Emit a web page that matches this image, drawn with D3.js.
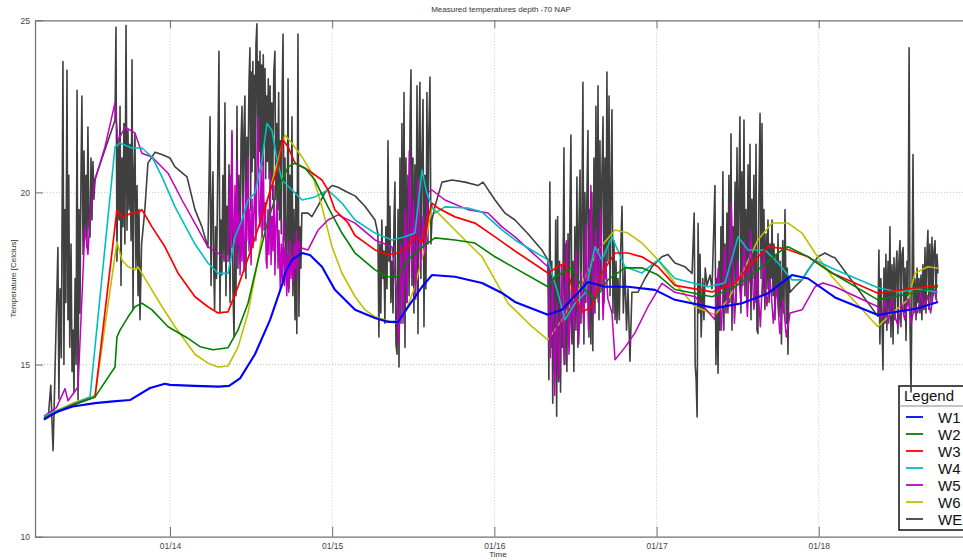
<!DOCTYPE html>
<html>
<head>
<meta charset="utf-8">
<script src="https://cdn.jsdelivr.net/npm/d3@7"></script>
<style>
  body { margin: 0; background: #fff; }
  svg { display: block; font-family: "Liberation Sans", Arial, sans-serif; }
</style>
</head>
<body>
<div id="chart"></div>
<script>
// Measured temperatures at depth -70 NAP, 7 sensors.
// Time is stored as fractional day of January, temperatures in degrees C.

const seriesNames = ["W1", "W2", "W3", "W4", "W5", "W6", "WE"];
const seriesColors = ["#0000ff", "#008000", "#ff0000", "#00bfbf", "#bf00bf", "#bfbf00", "#404040"];

const dayTicks = [14, 15, 16, 17, 18];
const tempTicks = [10, 15, 20, 25];
const timeDomain = [13.1677, 18.914];

const w1 = [[13.223,13.40],[13.30,13.62],[13.40,13.78],[13.538,13.88],[13.65,13.93],[13.753,13.97],[13.877,14.32],
  [13.969,14.44],[14.0,14.41],[14.15,14.38],[14.30,14.36],[14.364,14.38],[14.432,14.6],[14.524,15.3],[14.617,16.3],
  [14.697,17.4],[14.709,17.66],[14.752,18.04],[14.814,18.24],[14.863,18.18],[14.937,17.84],[15.017,17.17],[15.141,16.59],
  [15.264,16.35],[15.344,16.24],[15.406,16.24],[15.467,16.67],[15.554,17.26],[15.615,17.6],[15.757,17.55],[15.924,17.37],
  [16.047,17.08],[16.127,16.82],[16.330,16.45],[16.417,16.59],[16.577,17.4],[16.682,17.26],[16.824,17.26],[16.990,17.17],
  [17.113,16.88],[17.360,16.64],[17.527,16.78],[17.687,17.07],[17.835,17.6],[17.934,17.5],[18.100,16.95],
  [18.365,16.44],[18.50,16.55],[18.60,16.62],[18.735,16.82]];

const w2 = [[13.223,13.45],[13.40,13.82],[13.538,14.06],[13.661,14.93],[13.673,15.8],[13.692,16.0],[13.741,16.38],
  [13.784,16.68],[13.827,16.78],[13.889,16.59],[13.988,16.1],[14.105,15.78],[14.185,15.52],[14.265,15.43],[14.358,15.49],
  [14.419,16.0],[14.481,16.78],[14.543,18.03],[14.604,19.19],[14.666,20.07],[14.728,20.74],[14.771,20.85],[14.832,20.71],
  [14.894,20.36],[14.974,19.58],[15.060,18.82],[15.141,18.24],[15.264,17.75],[15.344,17.55],[15.406,17.55],[15.467,18.04],
  [15.554,18.41],[15.634,18.68],[15.757,18.62],[15.880,18.53],[16.004,18.13],[16.127,17.8],[16.330,17.26],[16.374,17.55],
  [16.478,17.81],[16.540,17.26],[16.620,16.88],[16.700,17.46],[16.805,17.81],[16.910,17.81],[17.009,17.6],[17.113,17.18],
  [17.342,16.97],[17.483,17.26],[17.625,17.75],[17.773,18.33],[17.810,18.42],[17.934,18.13],[18.082,17.66],
  [18.365,16.88],[18.55,17.05],[18.735,17.26]];

const w3 = [[13.223,13.45],[13.40,13.83],[13.538,14.06],[13.673,19.5],[13.704,19.29],[13.766,19.4],[13.803,19.4],
  [13.827,19.5],[13.889,19.0],[13.969,18.42],[14.049,17.66],[14.154,16.97],[14.234,16.68],[14.296,16.5],[14.358,16.53],
  [14.419,17.26],[14.506,18.42],[14.586,19.58],[14.666,20.74],[14.697,21.52],[14.728,21.32],[14.771,20.85],[14.851,20.65],
  [14.937,20.36],[14.974,20.07],[15.017,19.49],[15.097,19.12],[15.141,18.75],[15.264,18.33],[15.344,18.19],[15.406,18.24],
  [15.467,18.42],[15.510,18.71],[15.554,18.56],[15.615,19.69],[15.652,19.55],[15.757,19.29],[15.880,19.11],[16.004,18.71],
  [16.127,18.3],[16.330,17.66],[16.392,17.84],[16.435,17.95],[16.497,16.97],[16.540,16.53],[16.602,16.68],[16.663,17.66],
  [16.744,18.24],[16.824,18.24],[16.910,18.13],[17.009,17.84],[17.113,17.3],[17.342,17.11],[17.483,17.37],[17.607,18.04],
  [17.687,18.42],[17.792,18.37],[17.934,18.13],[18.082,17.66],[18.365,17.07],[18.55,17.2],[18.735,17.3]];

const w4 = [[13.223,13.5],[13.40,13.85],[13.507,14.06],[13.661,21.32],[13.692,21.43],[13.766,21.29],[13.827,21.29],
  [13.889,21.03],[13.951,20.45],[14.031,19.58],[14.154,18.5],[14.234,17.95],[14.296,17.65],[14.358,17.65],[14.401,18.71],
  [14.444,19.2],[14.481,19.78],[14.524,19.98],[14.567,20.94],[14.598,22.0],[14.629,21.8],[14.660,20.94],[14.691,20.36],
  [14.752,20.07],[14.814,19.78],[14.894,19.87],[14.974,20.07],[15.060,19.69],[15.141,19.2],[15.264,18.82],[15.369,18.62],
  [15.449,18.71],[15.510,18.82],[15.554,20.65],[15.584,19.97],[15.634,19.4],[15.695,19.58],[15.837,19.55],[15.924,19.43],
  [16.047,18.91],[16.127,18.62],[16.330,18.04],[16.392,17.07],[16.435,16.3],[16.497,16.78],[16.559,17.07],[16.620,18.42],
  [16.663,18.04],[16.725,18.71],[16.805,17.84],[16.910,17.66],[17.009,18.04],[17.113,17.5],[17.317,17.26],[17.422,17.37],
  [17.502,18.71],[17.564,18.33],[17.668,18.33],[17.749,17.95],[17.835,17.46],[17.897,17.46],[17.977,18.04],[18.082,17.8],
  [18.365,17.23],[18.50,17.1],[18.60,17.2],[18.735,17.1]];

const w5 = [[13.223,13.5],[13.30,13.75],[13.353,14.3],[13.371,13.95],[13.433,14.35],[13.476,19.0],[13.494,18.2],
  [13.507,19.3],[13.538,20.36],[13.599,21.32],[13.661,22.6],[13.679,21.5],[13.723,21.9],[13.784,21.73],[13.827,21.14],
  [13.889,21.03],[13.988,20.56],[14.074,19.78],[14.154,19.1],[14.234,18.42],[14.296,18.24],
  [14.358,18.0],[14.364,19.6],[14.37,20.5],[14.376,18.4],[14.382,21.8],[14.388,18.9],[14.395,18.6],[14.401,20.2],
  [14.407,17.9],[14.413,20.9],[14.42,18.5],[14.426,19.4],[14.432,17.6],[14.438,19.2],[14.444,18.0],[14.45,19.9],
  [14.456,17.7],[14.462,18.2],[14.468,20.3],[14.474,18.6],[14.481,21.0],[14.487,18.3],[14.493,19.5],[14.50,17.9],
  [14.506,19.8],[14.512,18.4],[14.518,19.5],[14.524,20.3],[14.530,18.6],[14.536,20.8],[14.543,22.2],[14.549,19.4],
  [14.555,19.0],[14.562,20.6],[14.568,18.7],[14.575,21.2],[14.581,18.9],[14.587,19.7],[14.593,18.0],[14.598,17.8],
  [14.604,19.5],[14.610,18.2],[14.617,20.6],[14.623,17.9],[14.629,19.3],[14.635,18.3],[14.641,20.2],[14.647,17.6],
  [14.653,19.0],[14.66,19.8],[14.666,17.8],[14.672,18.9],[14.68,17.2],[14.686,18.5],[14.692,17.4],[14.70,19.2],
  [14.706,17.3],[14.712,18.4],[14.72,17.0],[14.726,18.2],[14.732,17.1],[14.74,18.6],[14.746,17.5],[14.752,18.0],
  [14.76,17.4],[14.766,18.5],[14.772,17.8],[14.78,18.9],[14.786,17.6],[14.792,18.6],[14.801,18.4],
  [14.851,18.33],[14.912,18.9],[14.974,19.2],[15.036,19.35],[15.141,19.11],[15.264,18.62],[15.369,18.42],
  [15.40,17.0],[15.412,15.6],[15.425,18.5],[15.437,16.2],[15.45,19.5],[15.462,16.8],[15.475,21.2],[15.49,17.5],
  [15.50,19.8],[15.515,16.9],[15.53,20.4],[15.545,17.8],[15.56,19.3],[15.575,18.2],[15.59,20.0],[15.615,20.07],
  [15.695,19.78],[15.837,19.5],[15.961,19.4],[16.047,19.0],[16.127,18.71],[16.330,17.84],
  [16.345,15.2],[16.36,17.5],[16.372,14.1],[16.385,16.8],[16.40,14.6],[16.415,17.9],[16.43,15.0],[16.445,18.6],
  [16.46,15.3],[16.475,17.2],[16.49,16.0],[16.505,18.3],[16.52,15.6],[16.535,17.7],[16.55,16.2],[16.565,19.1],
  [16.58,16.0],[16.595,20.2],[16.61,16.4],[16.625,18.9],[16.64,16.8],[16.655,19.5],[16.67,16.3],[16.685,18.0],
  [16.70,16.9],[16.725,16.5],[16.744,15.14],[16.805,15.5],[16.867,15.92],[16.947,16.68],[17.033,17.36],[17.113,17.1],
  [17.238,16.97],
  [17.36,16.3],[17.38,17.8],[17.40,16.0],[17.42,18.4],[17.44,16.5],[17.46,19.7],[17.48,16.2],[17.50,18.0],[17.52,16.8],
  [17.54,18.6],[17.56,16.4],[17.58,18.9],[17.60,16.6],[17.62,17.7],[17.64,16.1],[17.66,18.3],[17.68,16.7],[17.70,17.5],
  [17.72,16.2],[17.74,17.3],[17.76,15.9],[17.78,16.9],[17.80,15.8],[17.823,16.5],[17.897,16.59],[17.977,17.26],
  [18.026,17.37],[18.100,17.26],[18.365,16.68],
  [18.39,16.3],[18.41,16.9],[18.43,16.2],[18.45,17.0],[18.47,16.4],[18.49,16.1],[18.51,16.8],[18.53,16.3],[18.55,16.9],
  [18.57,16.2],[18.59,16.7],[18.61,16.5],[18.63,17.1],[18.65,16.6],[18.67,17.0],[18.69,16.5],[18.71,17.2],[18.73,16.8]];

const w6 = [[13.223,13.5],[13.40,13.88],[13.538,14.1],[13.673,18.56],[13.704,18.04],[13.741,17.84],[13.784,17.75],
  [13.803,17.84],[13.864,17.36],[13.951,16.68],[14.031,16.1],[14.154,15.3],[14.234,15.04],[14.296,14.93],[14.358,14.96],
  [14.419,15.5],[14.481,16.5],[14.543,18.04],[14.604,19.87],[14.666,20.94],[14.709,21.67],[14.752,21.43],[14.814,21.03],
  [14.875,20.56],[14.937,19.58],[14.999,18.42],[15.060,17.66],[15.141,16.97],[15.202,16.59],[15.264,16.39],[15.387,16.21],
  [15.449,16.5],[15.510,17.26],[15.572,18.42],[15.615,19.58],[15.677,19.29],[15.757,18.91],[15.837,18.53],[15.924,18.13],
  [16.004,17.46],[16.084,16.78],[16.127,16.59],[16.232,16.1],[16.330,15.72],[16.417,16.3],[16.540,17.36],[16.639,18.33],
  [16.744,18.91],[16.824,18.82],[16.910,18.53],[17.009,18.04],[17.113,17.37],[17.238,16.68],[17.360,16.45],[17.440,16.88],
  [17.527,17.65],[17.625,18.62],[17.712,19.11],[17.810,19.11],[17.897,18.82],[17.977,18.24],[18.082,17.55],
  [18.365,16.1],[18.452,16.5],[18.551,16.88],[18.593,17.65],[18.673,17.84],[18.735,17.8]];

const we = [[13.223,13.4],[13.25,13.5],[13.265,14.4],[13.273,13.3],[13.279,12.5],[13.285,13.6],[13.309,18.4],
  [13.315,14.0],[13.322,17.2],[13.33,15.2],[13.340,23.8],[13.346,15.0],[13.352,19.5],[13.358,16.8],[13.365,23.55],
  [13.371,16.3],[13.376,20.5],[13.382,15.5],[13.39,18.5],[13.396,14.8],[13.402,16.0],[13.408,14.2],[13.415,17.5],
  [13.421,15.0],[13.427,22.97],[13.433,13.97],[13.439,19.5],[13.445,16.5],[13.451,20.4],[13.457,22.8],[13.464,18.2],
  [13.47,21.2],[13.475,18.8],[13.482,20.5],[13.488,18.4],[13.494,21.9],[13.500,19.0],[13.507,18.7],[13.513,21.0],
  [13.519,19.2],[13.525,20.9],[13.531,19.8],[13.538,20.4],
  [13.661,22.1],[13.667,24.8],[13.673,18.0],[13.679,21.5],[13.686,19.2],[13.692,22.5],[13.698,17.3],[13.704,21.0],
  [13.710,19.0],[13.716,22.0],[13.722,18.5],[13.729,24.85],[13.735,18.9],[13.741,21.8],[13.747,19.5],[13.753,21.4],
  [13.760,18.6],[13.766,23.85],[13.772,16.6],[13.778,20.5],[13.784,21.7],[13.790,17.8],[13.797,20.2],[13.803,17.0],
  [13.809,19.5],[13.815,16.3],[13.825,18.5],[13.845,19.5],[13.864,20.85],[13.908,21.17],
  [13.95,21.1],[14.0,21.0],[14.031,20.74],[14.105,20.45],[14.154,19.5],[14.197,19.0],
  [14.234,18.4],[14.247,22.2],[14.253,17.3],[14.259,19.5],[14.265,20.6],[14.270,17.8],[14.275,16.6],[14.281,19.0],
  [14.287,17.5],[14.293,20.0],[14.302,24.1],[14.308,16.5],[14.314,19.2],[14.320,17.6],[14.326,20.5],[14.333,18.0],
  [14.339,22.6],[14.345,17.0],[14.351,19.6],[14.357,18.2],[14.364,20.8],[14.370,16.8],[14.376,19.5],[14.382,21.7],
  [14.388,17.2],[14.395,15.8],[14.401,19.8],[14.407,17.0],[14.413,22.5],[14.419,17.8],[14.425,20.5],[14.432,18.0],
  [14.438,21.5],[14.444,22.5],[14.450,19.0],[14.456,21.8],[14.462,22.8],[14.468,17.5],[14.474,21.6],[14.480,20.0],
  [14.487,23.2],[14.493,24.2],[14.497,19.5],[14.502,23.5],[14.506,20.6],[14.511,23.8],[14.515,21.0],[14.520,23.4],
  [14.525,20.0],[14.530,24.3],[14.536,24.9],[14.540,21.0],[14.545,23.8],[14.550,21.2],[14.555,24.1],[14.560,20.6],
  [14.565,23.7],[14.570,20.8],[14.575,24.0],[14.580,21.4],[14.586,23.6],[14.590,20.4],[14.595,22.8],[14.600,20.9],
  [14.606,23.3],[14.611,20.4],[14.617,23.1],[14.622,20.2],[14.628,22.6],[14.633,19.8],[14.640,23.5],[14.647,24.1],
  [14.652,19.8],[14.658,22.0],[14.664,19.5],[14.670,22.9],[14.675,19.2],[14.681,21.5],[14.686,18.8],[14.692,23.0],
  [14.697,24.6],[14.703,18.6],[14.709,21.0],[14.715,17.8],[14.721,17.65],[14.728,23.3],[14.734,17.2],[14.740,20.5],
  [14.746,18.0],[14.752,22.2],[14.758,17.0],[14.764,19.5],[14.771,16.3],[14.776,20.0],[14.782,15.9],[14.789,24.6],
  [14.795,16.4],[14.801,19.0],[14.807,17.8],[14.813,19.4],
  [14.851,19.4],[14.875,19.3],[14.912,19.6],[14.956,20.0],[14.999,20.2],[15.036,20.15],[15.097,20.0],[15.141,19.9],
  [15.202,19.6],[15.264,19.2],
  [15.282,18.8],[15.288,15.8],[15.294,18.5],[15.300,16.5],[15.306,19.2],[15.313,17.5],[15.319,18.3],[15.325,16.2],
  [15.331,19.0],[15.338,17.2],[15.344,21.5],[15.350,18.0],[15.356,19.6],[15.362,16.8],[15.369,18.0],[15.375,16.5],
  [15.381,19.2],[15.387,20.3],[15.393,15.6],[15.400,15.3],[15.406,19.5],[15.412,14.93],[15.418,21.0],[15.424,16.2],
  [15.430,22.0],[15.436,17.0],[15.443,22.9],[15.449,15.5],[15.455,21.0],[15.461,16.8],[15.467,20.5],[15.474,17.0],
  [15.480,22.0],[15.486,23.56],[15.492,17.3],[15.498,21.0],[15.504,16.5],[15.510,20.8],[15.517,18.0],[15.523,23.1],
  [15.529,15.9],[15.535,21.5],[15.541,23.2],[15.547,17.5],[15.553,21.0],[15.560,22.7],[15.566,16.1],[15.572,20.5],
  [15.578,17.2],[15.584,22.9],[15.590,18.5],[15.596,21.8],[15.603,23.35],[15.609,18.5],[15.615,19.2],
  [15.634,19.6],[15.677,20.3],[15.739,20.36],[15.819,20.3],[15.899,20.2],[15.930,20.3],[16.004,19.78],[16.065,19.4],
  [16.127,19.2],[16.207,18.8],[16.293,18.33],
  [16.330,18.04],[16.336,14.56],[16.342,20.3],[16.348,15.5],[16.354,18.0],[16.360,13.88],[16.366,17.5],[16.372,14.8],
  [16.378,19.2],[16.384,13.5],[16.390,19.3],[16.396,14.5],[16.402,18.0],[16.408,14.2],[16.414,17.0],[16.420,15.5],
  [16.429,21.3],[16.435,15.0],[16.441,18.5],[16.447,14.8],[16.454,18.8],[16.460,15.8],[16.466,19.5],[16.472,21.67],
  [16.478,15.6],[16.484,18.0],[16.490,14.8],[16.496,19.0],[16.503,16.0],[16.509,20.45],[16.515,15.5],[16.521,19.0],
  [16.528,20.65],[16.534,16.2],[16.540,19.5],[16.546,23.2],[16.552,15.6],[16.558,20.0],[16.564,16.8],[16.570,19.8],
  [16.577,21.8],[16.583,15.8],[16.589,19.5],[16.595,15.6],[16.601,20.0],[16.607,15.4],[16.614,21.0],[16.620,16.5],
  [16.626,22.5],[16.633,17.0],[16.639,23.1],[16.645,16.3],[16.651,21.5],[16.657,17.2],[16.663,20.5],[16.670,22.2],
  [16.676,16.8],[16.682,21.0],[16.688,17.5],[16.694,23.5],[16.700,18.0],[16.707,22.8],[16.713,17.0],[16.719,20.0],
  [16.725,22.4],[16.731,16.5],[16.737,18.6],[16.744,16.3],[16.750,18.0],[16.756,16.2],[16.762,17.5],[16.770,16.3],
  [16.778,18.2],[16.787,19.6],[16.795,16.5],[16.805,17.8],[16.815,16.0],[16.824,17.2],[16.836,15.1],[16.848,17.1],
  [16.885,17.1],[16.929,17.5],[16.972,17.84],[17.033,18.13],[17.070,18.2],[17.113,17.95],[17.175,17.84],
  [17.219,17.65],[17.232,19.4],[17.238,15.0],[17.244,14.56],[17.250,13.48],[17.256,19.1],[17.262,16.5],[17.268,18.2],
  [17.275,15.8],[17.285,17.5],[17.292,16.3],[17.30,17.8],[17.311,17.3],[17.330,17.6],[17.342,17.2],[17.350,18.5],
  [17.360,20.2],[17.366,15.0],[17.372,17.5],[17.379,14.75],[17.385,18.0],[17.391,16.0],[17.397,19.0],[17.403,17.2],
  [17.409,20.6],[17.415,16.0],[17.421,18.5],[17.428,16.5],[17.434,19.4],[17.440,17.0],[17.446,20.5],[17.452,16.8],
  [17.459,21.7],[17.465,16.0],[17.471,19.0],[17.477,17.2],[17.484,20.3],[17.490,16.8],[17.496,21.3],[17.502,17.5],
  [17.508,20.0],[17.514,22.2],[17.520,16.5],[17.526,20.6],[17.532,17.3],[17.539,22.1],[17.545,17.0],[17.551,19.5],
  [17.557,16.8],[17.564,20.8],[17.570,17.4],[17.576,21.4],[17.582,16.3],[17.588,19.8],[17.594,17.5],[17.600,20.5],
  [17.607,16.8],[17.613,21.4],[17.619,16.0],[17.625,15.9],[17.631,19.8],[17.638,22.3],[17.644,17.5],[17.650,22.0],
  [17.656,17.0],[17.662,19.5],[17.668,16.6],[17.675,18.8],[17.681,17.2],[17.687,19.2],[17.694,16.8],[17.700,18.5],
  [17.706,17.5],[17.712,19.2],[17.718,17.0],[17.724,18.5],[17.730,16.3],[17.737,18.2],[17.743,17.0],[17.749,18.8],
  [17.755,16.4],[17.762,18.0],[17.770,15.6],[17.778,18.6],[17.785,16.5],[17.792,19.5],[17.800,16.2],[17.806,17.8],
  [17.810,15.3],[17.816,17.5],[17.823,17.1],
  [17.853,17.26],[17.897,17.46],[17.934,17.75],[17.995,18.13],[18.038,18.24],[18.082,18.13],[18.100,18.1],
  [18.365,16.4],[18.371,18.33],[18.377,15.6],[18.383,17.5],[18.389,16.5],[18.396,14.85],[18.402,17.8],[18.408,16.2],
  [18.414,18.2],[18.420,16.0],[18.427,18.0],[18.433,16.5],[18.439,19.0],[18.445,15.8],[18.452,17.9],[18.458,15.6],
  [18.464,18.1],[18.470,16.3],[18.476,17.8],[18.482,18.3],[18.488,15.9],[18.494,18.0],[18.501,18.6],[18.507,16.1],
  [18.513,18.2],[18.520,18.4],[18.526,16.5],[18.532,17.8],[18.538,15.7],[18.544,18.0],[18.550,17.0],[18.557,24.2],
  [18.563,16.0],[18.569,14.2],[18.575,17.2],[18.581,21.1],[18.587,16.5],[18.593,17.5],[18.600,16.3],[18.606,17.8],
  [18.612,16.8],[18.618,17.5],[18.624,16.5],[18.630,17.6],[18.636,16.3],[18.642,17.9],[18.649,16.6],[18.655,18.4],
  [18.661,16.5],[18.667,18.2],[18.673,18.9],[18.679,16.6],[18.685,18.5],[18.692,16.8],[18.698,18.7],[18.704,17.0],
  [18.710,18.3],[18.717,18.6],[18.723,16.9],[18.729,18.2],[18.735,17.65]];

const seriesData = [w1, w2, w3, w4, w5, w6, we];
const seriesWidths = [2.1, 1.6, 1.7, 1.6, 1.5, 1.6, 1.6];

const W = 963, H = 560;
const M = { left: 35, top: 20.3, right: 967, bottom: 536.7 };

// fractional January day -> Date
const dayToDate = (d) => new Date(Date.UTC(2012, 0, 1) + (d - 1) * 864e5);

const svg = d3.select("#chart").append("svg").attr("width", W).attr("height", H);

const x = d3.scaleUtc().domain(timeDomain.map(dayToDate)).range([M.left, M.right]);
const y = d3.scaleLinear().domain([10, 25]).range([M.bottom, M.top]);

svg.append("defs").append("clipPath").attr("id", "plot")
  .append("rect").attr("x", M.left).attr("y", M.top)
  .attr("width", M.right - M.left).attr("height", M.bottom - M.top);

// grid (dotted)
const grid = svg.append("g").attr("stroke", "#b8b8b8").attr("stroke-width", 0.8)
  .attr("stroke-dasharray", "1,2");
grid.selectAll("line.vx").data(dayTicks).enter().append("line")
  .attr("x1", (d) => x(dayToDate(d))).attr("x2", (d) => x(dayToDate(d)))
  .attr("y1", M.top).attr("y2", M.bottom);
grid.selectAll("line.hy").data(tempTicks.slice(1, -1)).enter().append("line")
  .attr("x1", M.left).attr("x2", M.right)
  .attr("y1", (d) => y(d)).attr("y2", (d) => y(d));

// axes, ticks pointing inwards like the original
const fmt = d3.utcFormat("%m/%d");
const xAxis = d3.axisBottom(x).tickValues(dayTicks.map(dayToDate)).tickFormat(fmt)
  .tickSizeInner(-10).tickSizeOuter(0).tickPadding(6);
const gx = svg.append("g").attr("transform", `translate(0,${M.bottom})`).call(xAxis);
const xTop = d3.axisTop(x).tickValues(dayTicks.map(dayToDate)).tickFormat("")
  .tickSizeInner(-8).tickSizeOuter(0);
const gxt = svg.append("g").attr("transform", `translate(0,${M.top})`).call(xTop);
const yAxis = d3.axisLeft(y).tickValues(tempTicks).tickSizeInner(-8).tickSizeOuter(0).tickPadding(5);
const gy = svg.append("g").attr("transform", `translate(${M.left},0)`).call(yAxis);

[gx, gxt, gy].forEach((g) => {
  g.selectAll(".domain").attr("stroke", "#707070").attr("stroke-width", 1.2);
  g.selectAll(".tick line").attr("stroke", "#707070");
  g.selectAll("text").attr("fill", "#444").style("font-size", "8.5px")
    .style("font-family", '"Liberation Sans Narrow","Liberation Sans",Arial,sans-serif');
});

svg.append("text").attr("x", 501).attr("y", 12).attr("text-anchor", "middle")
  .style("font-size", "8px").attr("fill", "#333").text("Measured temperatures depth -70 NAP");
svg.append("text").attr("x", 498).attr("y", 557).attr("text-anchor", "middle")
  .style("font-size", "8px").attr("fill", "#333").text("Time");
svg.append("text").attr("transform", `translate(16,${(M.top + M.bottom) / 2}) rotate(-90)`)
  .attr("text-anchor", "middle").style("font-size", "8px").attr("fill", "#333")
  .text("Temperature [Celcius]");

// legend (the WE spike near 18.57 crosses its top edge in the original, so lines go over it)
const leg = svg.append("g").attr("transform", "translate(899,386)");
leg.append("rect").attr("width", 82).attr("height", 144).attr("fill", "#fff")
  .attr("stroke", "#111").attr("stroke-width", 1.5);
leg.append("text").attr("x", 5).attr("y", 15).style("font-size", "15px").attr("fill", "#111").text("Legend");
leg.append("line").attr("x1", 0).attr("x2", 82).attr("y1", 20).attr("y2", 20)
  .attr("stroke", "#888").attr("stroke-width", 1);
const items = leg.selectAll("g.item").data(seriesNames).enter().append("g")
  .attr("transform", (d, i) => `translate(0,${31 + i * 17})`);
items.append("line").attr("x1", 7).attr("x2", 24).attr("stroke", (d, i) => seriesColors[i]).attr("stroke-width", 1.8);
items.append("text").attr("x", 39).attr("y", 5.5).style("font-size", "15px").attr("fill", "#111").text((d) => d);

// series: WE first, W1 on top
const line = d3.line().x((d) => x(dayToDate(d[0]))).y((d) => y(d[1]));
const plot = svg.append("g").attr("clip-path", "url(#plot)");
const order = [6, 5, 4, 3, 2, 1, 0];
plot.selectAll("path.series").data(order).enter().append("path")
  .attr("class", "series")
  .attr("fill", "none")
  .attr("stroke", (i) => seriesColors[i])
  .attr("stroke-width", (i) => seriesWidths[i])
  .attr("stroke-linejoin", "round")
  .attr("d", (i) => line(seriesData[i]));
</script>
</body>
</html>
